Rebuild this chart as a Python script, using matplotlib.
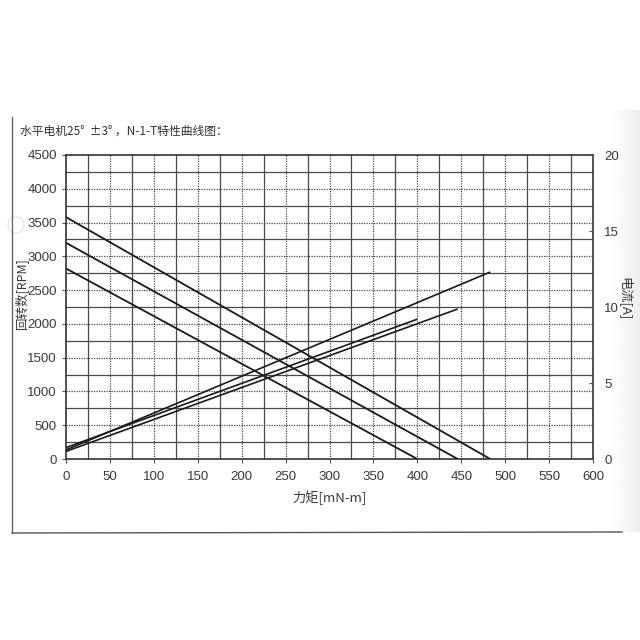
import matplotlib

matplotlib.use("Agg")
import matplotlib.pyplot as plt  # noqa: E402
import numpy as np  # noqa: E402

plt.rcParams["font.family"] = ["Liberation Sans", "Noto Sans CJK SC", "DejaVu Sans"]
plt.rcParams["axes.unicode_minus"] = False

CJK = ["Noto Sans CJK SC", "DejaVu Sans"]
INK = "#1a1a1a"
GRID = "#4a4a4a"
TEXT = "#3a3a3a"

# 三条特性：起点(0 mN-m)与终点(堵转力矩)
stall_torque = [483, 446, 400]          # mN-m
noload_speed = [3580, 3200, 2820]       # RPM
start_current = [0.6, 0.5, 0.75]        # A  (at 0 mN-m)
end_current = [12.3, 9.87, 9.2]         # A  (at stall torque)

x_ticks = list(range(0, 601, 50))
y_ticks = list(range(0, 4501, 500))
y2_ticks = [0, 5, 10, 15, 20]

title = "水平电机25°  ±3° ，N-1-T特性曲线图："
xlabel = "力矩[mN-m]"
ylabel = "回转数[RPM]"
y2label = "电流[A]"

fig = plt.figure(figsize=(6.4, 6.4), dpi=100)
ax = fig.add_axes([66 / 640, 1 - 459 / 640, (593 - 66) / 640, (459 - 155) / 640])
ax.set_xlim(0, 600)
ax.set_ylim(0, 4500)

# 方格：刻度处为点线，中间为实线
for v in range(25, 600, 25):
    style = (0, (1, 1)) if v % 50 == 0 else "-"
    ax.axvline(v, color=GRID, lw=0.9, ls=style, zorder=1)
for v in range(250, 4500, 250):
    style = (0, (1, 1)) if v % 500 == 0 else "-"
    ax.axhline(v, color=GRID, lw=0.9, ls=style, zorder=1)

for sp in ax.spines.values():
    sp.set_color("#333333")
    sp.set_linewidth(1.2)

ax.set_xticks(x_ticks)
ax.set_yticks(y_ticks)
ax.tick_params(axis="both", colors="#555555", labelcolor=TEXT, labelsize=9.5, length=3, width=0.8)
ax.tick_params(axis="x", pad=6)

ax2 = ax.twinx()
ax2.set_ylim(0, 20)
ax2.set_yticks(y2_ticks)
ax2.tick_params(axis="y", direction="in", colors="#555555", labelcolor=TEXT, labelsize=9.5,
                length=3, width=0.8, pad=8)
for sp in ax2.spines.values():
    sp.set_visible(False)

for t, n0, c0, c1 in zip(stall_torque, noload_speed, start_current, end_current):
    ax.plot([0, t], [n0, 0], color=INK, lw=1.3, zorder=3, solid_capstyle="butt")
    ax2.plot([0, t], [c0, c1], color=INK, lw=1.2, zorder=3, solid_capstyle="butt")

ax.set_xlabel(xlabel, family=CJK, fontsize=9.5, color=TEXT, labelpad=5)
fig.text(21 / 640, 1 - 293 / 640, ylabel, family=CJK, fontsize=9, color=TEXT,
         rotation=90, ha="center", va="center")
fig.text(625 / 640, 1 - 299 / 640, y2label, family=CJK, fontsize=9.5, color=TEXT,
         rotation=270, ha="center", va="center")
fig.text(20 / 640, 1 - 131 / 640, title, family=CJK, fontsize=8.5, color="#333333",
         ha="left", va="center")

# 扫描页边框与打孔
fig.add_artist(plt.Line2D([12 / 640, 12 / 640], [1 - 117 / 640, 1 - 533 / 640],
                          transform=fig.transFigure, color="#666666", lw=1.0))
fig.add_artist(plt.Line2D([12 / 640, 622 / 640], [1 - 533 / 640, 1 - 532 / 640],
                          transform=fig.transFigure, color="#555555", lw=1.0))
fig.add_artist(plt.Circle((16 / 640, 1 - 225 / 640), 8 / 640, transform=fig.transFigure,
                          facecolor="white", edgecolor="#e2e2e2", lw=0.8))
shade = np.linspace(1.0, 0.93, 40).reshape(1, -1)
sax = fig.add_axes([612 / 640, 1 - 532 / 640, 28 / 640, (532 - 110) / 640], zorder=-1)
sax.imshow(shade, cmap="gray", vmin=0, vmax=1, aspect="auto")
sax.axis("off")

fig.savefig("out.png", dpi=100, facecolor="white")
